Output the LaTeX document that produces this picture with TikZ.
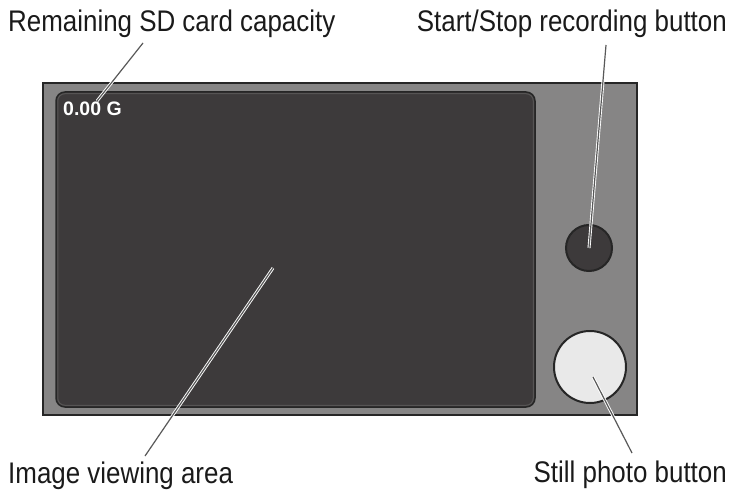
\documentclass[tikz,border=0pt]{standalone}
\usepackage{fontspec}
\setmainfont{Liberation Sans}
\newfontfamily\labelfont{Liberation Sans}[FakeStretch=0.87]
\definecolor{bodygray}{RGB}{134,133,133}
\definecolor{screendark}{RGB}{61,58,59}
\definecolor{rimgray}{RGB}{86,84,84}
\definecolor{edgedark}{RGB}{38,38,38}
\definecolor{btnlight}{RGB}{233,233,233}
\definecolor{inkblack}{RGB}{26,26,26}
\usetikzlibrary{positioning}

\begin{document}
\begin{tikzpicture}[x=1pt,y=-1pt,
    callout/.style={font=\labelfont\fontsize{29.8}{32}\selectfont, text=inkblack, inner sep=0pt},
    leader/.style={draw=white, double=gray!70!black, line width=0.9pt, double distance=1.2pt},
    button/.style={circle, draw=edgedark, line width=2pt, inner sep=0pt}]
  \useasboundingbox (0,0) rectangle (729,495);

  % camera body and screen
  \node[draw=edgedark, fill=bodygray, line width=2.5pt, minimum width=594pt,
        minimum height=332pt, inner sep=0pt] (camera) at (340,249) {};
  \node[draw=edgedark, fill=screendark, line width=1.5pt, rounded corners=9pt,
        minimum width=479pt, minimum height=315pt, inner sep=0pt] (screen) at (295.5,249.5) {};
  \draw[rimgray, line width=1pt, rounded corners=7pt]
    ([xshift=2.5pt,yshift=-2.5pt]screen.north west) rectangle ([xshift=-2.5pt,yshift=2.5pt]screen.south east);
  \node[anchor=base west, inner sep=0pt, text=white, font=\bfseries\fontsize{19.5}{20}\selectfont]
    (sdtext) at (63,116) {0.00 G};

  % buttons
  \node[button, fill=screendark, minimum size=46pt] (recbtn) at (589,248) {};
  \node[button, fill=btnlight, minimum size=72pt] (stillbtn) at (590,367) {};

  % labels
  \node[callout, anchor=base west] (capacity) at (8,32) {Remaining SD card capacity};
  \node[callout, anchor=base east] (record) at (727,32) {Start/Stop recording button};
  \node[callout, anchor=base west] (viewing) at (8,483) {Image viewing area};
  \node[callout, anchor=base east] (still) at (727,482) {Still photo button};

  % leader lines
  \coordinate (capacitytip) at (143,43);
  \coordinate (sdpoint) at (97,101);
  \coordinate (recordtip) at (606,45);
  \coordinate (viewingtip) at (145,456);
  \coordinate (viewpoint) at (273,268);
  \coordinate (stillpoint) at (593,377);
  \coordinate (stilltip) at (632,453);
  \draw[leader] (capacitytip) -- (sdpoint);
  \draw[leader] (recordtip) -- (recbtn.center);
  \draw[leader] (viewingtip) -- (viewpoint);
  \draw[leader] (stillpoint) -- (stilltip);
\end{tikzpicture}
\end{document}
